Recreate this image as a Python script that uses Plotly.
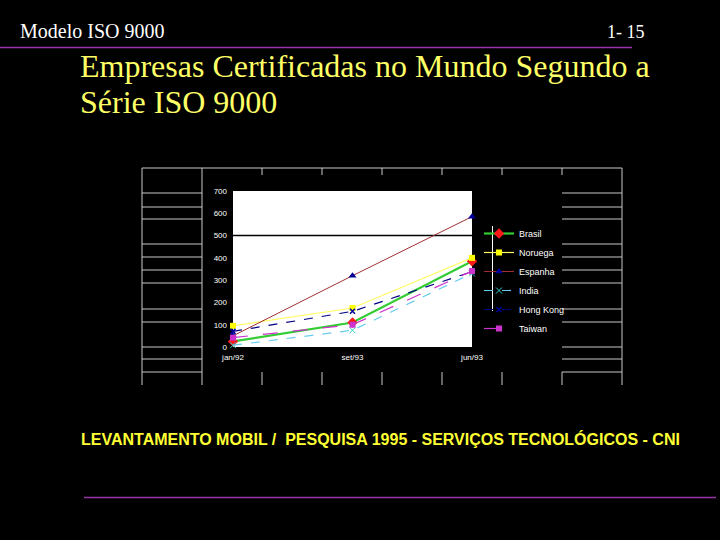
import plotly.graph_objects as go

categories = ["jan/92", "set/93", "jun/93"]
brasil = [25, 110, 385]
noruega = [95, 175, 400]
espanha = [50, 320, 585]
india = [8, 75, 330]
hong_kong = [70, 160, 338]
taiwan = [42, 100, 341]
y_ticks = [0, 100, 200, 300, 400, 500, 600, 700]

W, H = 720, 540
L, R, T, B = 233, 472, 191, 347


def PX(x):
    return (x - L) / (R - L)


def PY(y):
    return (B - y) / (B - T)


series = [
    ("Brasil", brasil, dict(color="#33cc33", width=2.2, dash="solid"),
     dict(color="#ff1a1a", symbol="diamond", size=8)),
    ("Noruega", noruega, dict(color="#ffff66", width=1.2, dash="solid"),
     dict(color="#ffff00", symbol="square", size=6)),
    ("Espanha", espanha, dict(color="#a03030", width=1, dash="solid"),
     dict(color="#000099", symbol="triangle-up", size=7)),
    ("India", india, dict(color="#66ccee", width=1.2, dash="dash"),
     dict(color="#33cccc", symbol="x-thin-open", size=6, line=dict(color="#33cccc", width=1))),
    ("Hong Kong", hong_kong, dict(color="#000080", width=1.2, dash="dash"),
     dict(color="#000099", symbol="x-thin-open", size=5, line=dict(color="#000099", width=1.5))),
    ("Taiwan", taiwan, dict(color="#cc33cc", width=1.2, dash="longdash"),
     dict(color="#cc33cc", symbol="square", size=6)),
]

fig = go.Figure()
for name, vals, line, marker in series:
    fig.add_trace(go.Scatter(x=categories, y=vals, name=name, mode="lines+markers",
                             line=line, marker=marker, cliponaxis=False))

shapes = []
gray = dict(color="#c8c8c8", width=1)


def seg(x0, y0, x1, y1, line=gray):
    shapes.append(dict(type="line", xref="paper", yref="paper",
                       x0=PX(x0), y0=PY(y0), x1=PX(x1), y1=PY(y1), line=line,
                       layer="above"))


# decorative frame around the chart
seg(142, 168, 622, 168)
seg(142, 168, 142, 385)
seg(202, 168, 202, 385)
seg(622, 168, 622, 385)
for yy in [193, 207, 219, 244, 257, 270, 283, 309, 322, 347, 359, 372]:
    seg(142, yy, 202, yy)
    seg(562, yy, 622, yy)
for xx in [262, 322, 382, 442, 502, 562]:
    seg(xx, 168, xx, 175)
    seg(xx, 372, xx, 385)

# purple rules
seg(0, 47.5, 632, 47.5, dict(color="#9933aa", width=1.5))
seg(84, 497.5, 716, 497.5, dict(color="#9933aa", width=1.5))

# legend left rule
seg(492.5, 226, 492.5, 311, dict(color="#ffffff", width=1))

# reference line at 500
shapes.append(dict(type="line", xref="paper", yref="y", x0=0, x1=1, y0=500, y1=500,
                   line=dict(color="#000000", width=1.5), layer="below"))

annotations = [
    dict(text="Modelo ISO 9000", x=PX(18), y=PY(31), xanchor="left", yanchor="middle",
         font=dict(family="Liberation Serif", size=20, color="#ffffff")),
    dict(text="1- 15", x=PX(605), y=PY(32), xanchor="left", yanchor="middle",
         font=dict(family="Liberation Serif", size=18, color="#ffffff")),
    dict(text="Empresas Certificadas no Mundo Segundo a", x=PX(78), y=PY(66),
         xanchor="left", yanchor="middle",
         font=dict(family="Liberation Serif", size=32, color="#ffff66")),
    dict(text="Série ISO 9000", x=PX(78), y=PY(102), xanchor="left", yanchor="middle",
         font=dict(family="Liberation Serif", size=32, color="#ffff66")),
    dict(text="<b>LEVANTAMENTO MOBIL /  PESQUISA 1995 - SERVIÇOS TECNOLÓGICOS - CNI</b>",
         x=PX(79), y=PY(439), xanchor="left", yanchor="middle",
         font=dict(family="Liberation Sans", size=16, color="#ffff33")),
]
for a in annotations:
    a.update(xref="paper", yref="paper", showarrow=False)

fig.update_layout(
    width=W, height=H,
    margin=dict(l=L, r=W - R, t=T, b=H - B, pad=0),
    paper_bgcolor="#000000",
    plot_bgcolor="#ffffff",
    showlegend=True,
    legend=dict(x=PX(479), y=PY(219), xanchor="left", yanchor="top",
                bgcolor="rgba(0,0,0,0)", font=dict(family="Liberation Sans", size=9, color="#ffffff"),
                itemwidth=30, tracegroupgap=0),
    shapes=shapes,
    annotations=annotations,
    font=dict(family="Liberation Sans", color="#ffffff"),
)
fig.update_xaxes(type="category", range=[0, 2], showgrid=False, zeroline=False,
                 showline=False, ticks="", ticklabelstandoff=4,
                 tickfont=dict(size=8, color="#ffffff"),
                 fixedrange=True)
fig.update_yaxes(range=[0, 700], tickvals=y_ticks, showgrid=False, zeroline=False,
                 showline=False, ticks="", ticklabelstandoff=5,
                 tickfont=dict(size=8, color="#ffffff"), fixedrange=True)

fig.write_html(
    "out.html",
    config={"displayModeBar": False},
    post_script="document.body.style.margin='0';document.body.style.background='#000';"
                "document.body.style.overflow='hidden';",
)
